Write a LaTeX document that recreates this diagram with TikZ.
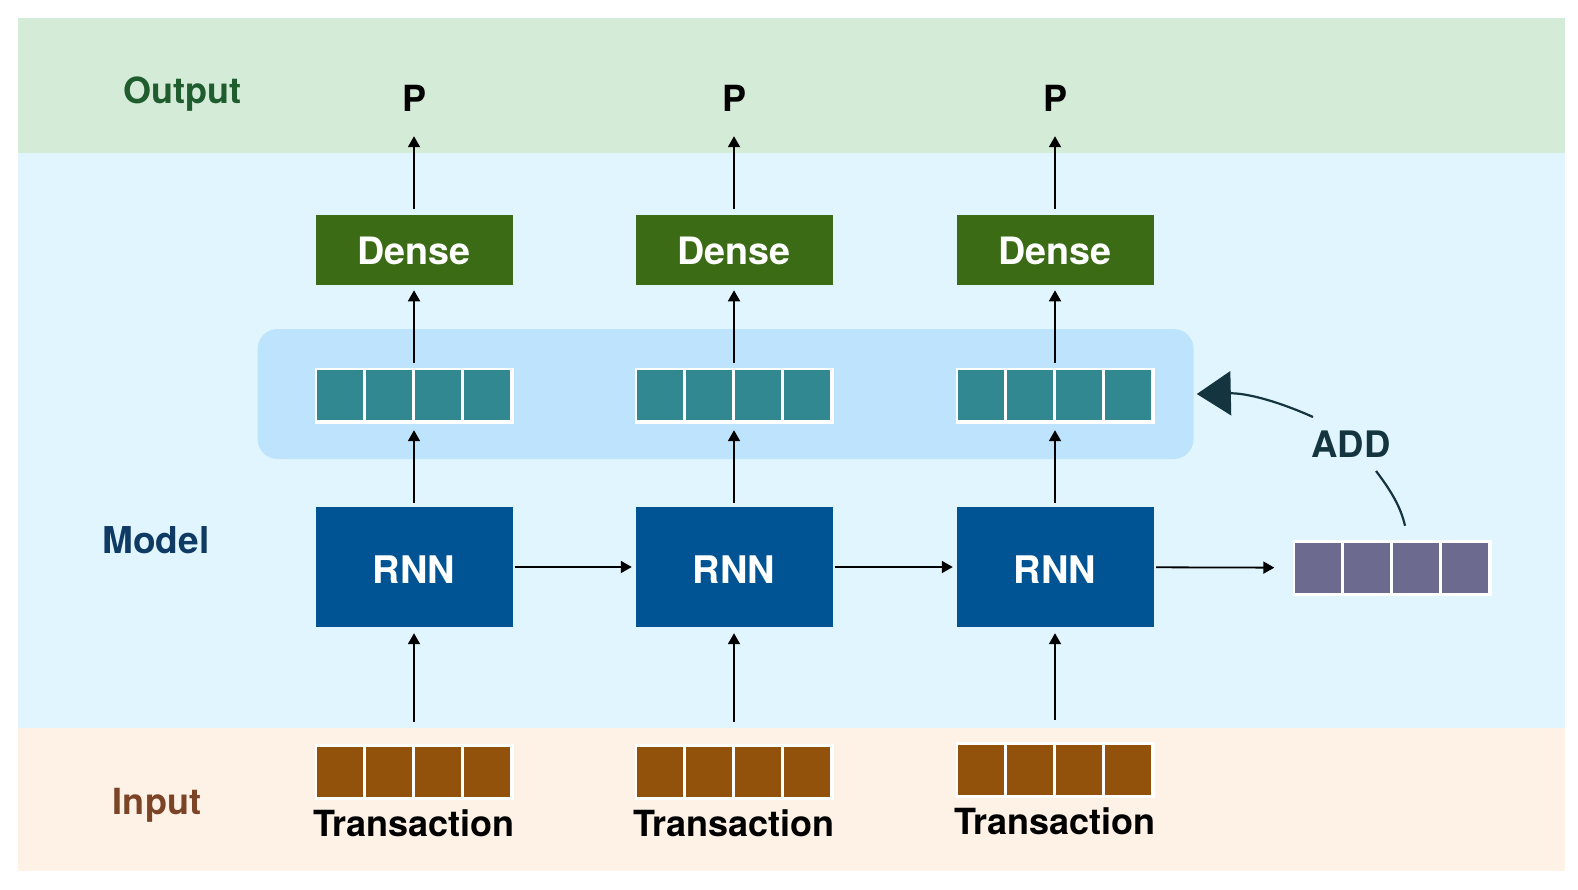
\documentclass[tikz,border=0pt]{standalone}
\usepackage{fontspec}
\setmainfont{TeX Gyre Heros}
\usetikzlibrary{arrows.meta,calc}
\definecolor{outbg}{HTML}{D3EBD7}
\definecolor{modbg}{HTML}{E0F5FE}
\definecolor{inbg}{HTML}{FEF2E7}
\definecolor{hidbg}{HTML}{BEE3FC}
\definecolor{densec}{HTML}{3B6B14}
\definecolor{rnnc}{HTML}{005493}
\definecolor{tealc}{HTML}{328891}
\definecolor{purpc}{HTML}{6C6A8F}
\definecolor{brownc}{HTML}{93520B}
\definecolor{outtxt}{HTML}{1F5C2E}
\definecolor{modtxt}{HTML}{0E3A63}
\definecolor{intxt}{HTML}{7B4427}
\definecolor{addc}{HTML}{14343F}
\newcommand\fsz[1]{\fontsize{#1}{#1}\selectfont}
\newcommand\mkvec[4]{%
  \node[vbox] (#1) at (#2,#3) {};
  \foreach \i in {0,1,2,3} \fill[#4] ($(#1.north west)+(3+49*\i,3)$) rectangle ++(46,50);
}
\begin{document}
\begin{tikzpicture}[x=1pt,y=-1pt,
  lbl/.style={font=\fsz{36}\bfseries, inner sep=0pt},
  dbox/.style={fill=densec, minimum width=197pt, minimum height=70pt, text=white, font=\fsz{37.7}\bfseries, inner sep=0pt},
  rbox/.style={fill=rnnc, minimum width=197pt, minimum height=120pt, text=white, font=\fsz{38}\bfseries, inner sep=0pt},
  vbox/.style={fill=white, minimum width=199pt, minimum height=56pt, inner sep=0pt},
  arr/.style={line width=1.8pt, -{Triangle[length=11pt,width=12pt]}},
  addline/.style={draw=addc, line width=2.2pt},
]
\useasboundingbox (0,0) rectangle (1578,890);
% bands
\fill[outbg] (18,18) rectangle (1565,153);
\fill[modbg] (18,153) rectangle (1565,728);
\fill[inbg] (18,728) rectangle (1565,870.5);
% hidden-state panel
\node[fill=hidbg, rounded corners=20pt, minimum width=936pt, minimum height=130pt, inner sep=0pt] (hid) at (725.6,394) {};
% labels
\node[lbl, text=outtxt, anchor=base] (lout) at (182,104) {Output};
\node[lbl, text=modtxt, font=\fsz{37}\bfseries] (lmod) at (156,540) {Model};
\node[lbl, text=intxt, anchor=base] (lin) at (157,814) {Input};
% columns
\foreach \c/\x/\ty in {1/414/772, 2/734/772, 3/1055/770}{
  \node[lbl, anchor=base] (p\c) at (\x,112) {P};
  \node[dbox] (d\c) at (\x,249.6) {\raisebox{-1.5pt}[\height][0pt]{Dense}};
  \mkvec{h\c}{\x}{395.5}{tealc}
  \node[rbox] (r\c) at (\x,567) {\raisebox{-3pt}[\height][0pt]{RNN}};
  \mkvec{t\c}{\x}{\ty}{brownc}
  \node[lbl, font=\fsz{36}\bfseries] (tx\c) at (\x,\ty+51) {Transaction};
  \draw[arr, shorten <=5.6pt, shorten >=24pt] (d\c) -- (p\c);
  \draw[arr, shorten <=4.5pt, shorten >=5.5pt] (h\c) -- (d\c);
  \draw[arr, shorten <=4pt, shorten >=6.5pt] (r\c) -- (h\c);
  \draw[arr, shorten <=22pt, shorten >=6pt] (t\c) -- (r\c);
}
\mkvec{pv}{1392}{568}{purpc}
\draw[arr, shorten <=2pt, shorten >=3.5pt] (r1) -- (r2);
\draw[arr, shorten <=2pt, shorten >=3.5pt] (r2) -- (r3);
\draw[arr, shorten <=2.5pt, shorten >=18pt] (r3) -- (pv);
% ADD
\node[lbl, text=addc, font=\fsz{36.5}\bfseries] (add) at (1351,444) {ADD};
\coordinate (a1) at (1313,417);
\coordinate (a2) at (1376,471);
\draw[addline, -{Triangle[length=34pt,width=44pt]}] (a1) .. controls (1275,400) and (1245,393) .. ([xshift=3pt]hid.east);
\draw[addline] (a2) .. controls (1392,492) and (1401,508) .. ([xshift=13pt,yshift=14pt]pv.north);
\end{tikzpicture}
\end{document}
